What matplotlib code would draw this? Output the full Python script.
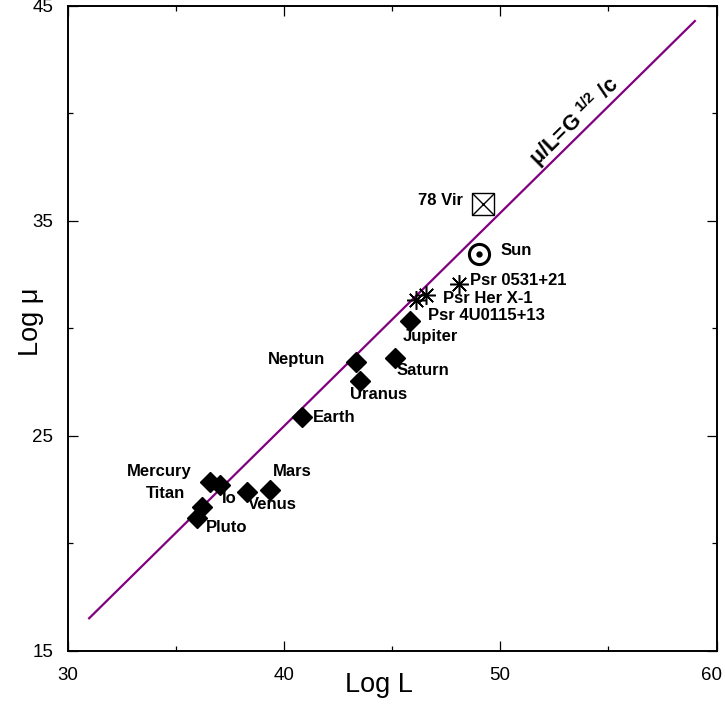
import matplotlib
matplotlib.use("Agg")
import matplotlib.pyplot as plt
from matplotlib.ticker import MultipleLocator
from matplotlib.transforms import ScaledTranslation

plt.rcParams['font.family'] = ['Liberation Sans', 'DejaVu Sans']
plt.rcParams['mathtext.fontset'] = 'custom'
plt.rcParams['mathtext.bf'] = 'Liberation Sans:bold'
plt.rcParams['mathtext.rm'] = 'Liberation Sans:bold'
plt.rcParams['mathtext.default'] = 'bf'

# ---------------- data ----------------
planet_names = ["Mercury", "Io", "Titan", "Pluto", "Venus", "Mars", "Earth",
                "Neptun", "Uranus", "Saturn", "Jupiter"]
planet_logL = [36.58, 37.04, 36.20, 35.97, 38.28, 39.35, 40.86,
               43.33, 43.54, 45.13, 45.85]
planet_logmu = [22.83, 22.69, 21.68, 21.16, 22.38, 22.46, 25.86,
                28.42, 27.54, 28.62, 30.36]

pulsar_names = ["Psr 4U0115+13", "Psr Her X-1", "Psr 0531+21"]
pulsar_logL = [46.10, 46.59, 48.10]
pulsar_logmu = [31.32, 31.57, 32.06]

sun_name = "Sun"
sun_logL = [49.02]
sun_logmu = [33.46]

vir_name = "78 Vir"
vir_logL = [49.21]
vir_logmu = [35.78]

line_logL = [31.0, 59.0]
line_logmu = [16.5, 44.3]

xticks = [30, 40, 50, 60]
yticks = [15, 25, 35, 45]

# label offsets (points): (dx, dy, ha)
label_layout = {
    "Mercury": (-13, 8, "right"),
    "Io": (1.4, -9.4, "left"),
    "Titan": (-12, 10, "right"),
    "Pluto": (7, -6.8, "left"),
    "Venus": (1, -9.2, "left"),
    "Mars": (2, 13.7, "left"),
    "Earth": (7.6, 0, "left"),
    "Neptun": (-22.3, 1.6, "right"),
    "Uranus": (-7.7, -10, "left"),
    "Saturn": (1.4, -8.8, "left"),
    "Jupiter": (-5.5, -11.5, "left"),
    "Psr 4U0115+13": (8.6, -11.3, "left"),
    "Psr Her X-1": (12, -3.2, "left"),
    "Psr 0531+21": (7.7, 2.7, "left"),
    "Sun": (15.6, 2.7, "left"),
    "78 Vir": (-14.5, 2.4, "right"),
}

fig = plt.figure(figsize=(7.25, 7.06), dpi=100)
ax = fig.add_axes([67.5 / 725, 55.5 / 706, 649 / 725, 644.5 / 706])

ax.plot(line_logL, line_logmu, color='#800080', lw=1.6, zorder=1)

ax.plot(planet_logL, planet_logmu, linestyle='none', marker='D', ms=10.3,
        color='black', zorder=3)
ax.plot(pulsar_logL, pulsar_logmu, linestyle='none', marker=(8, 2, 0), ms=13.5,
        mew=1.1, color='black', zorder=3)
ax.plot(sun_logL, sun_logmu, linestyle='none', marker='o', ms=14.5, mfc='white',
        mec='black', mew=2.2, zorder=3)
ax.plot(sun_logL, sun_logmu, linestyle='none', marker='o', ms=3.5,
        color='black', zorder=4)
ax.plot(vir_logL, vir_logmu, linestyle='none', marker='s', ms=15.5, mfc='white',
        mec='black', mew=1.0, zorder=3)
ax.plot(vir_logL, vir_logmu, linestyle='none', marker='x', ms=15.5,
        mec='black', mew=1.0, zorder=4)

all_names = planet_names + pulsar_names + [sun_name, vir_name]
all_x = planet_logL + pulsar_logL + sun_logL + vir_logL
all_y = planet_logmu + pulsar_logmu + sun_logmu + vir_logmu
for n, x, y in zip(all_names, all_x, all_y):
    dx, dy, ha = label_layout[n]
    ax.annotate(n, (x, y), xytext=(dx, dy), textcoords='offset points',
                ha=ha, va='center', fontsize=12, fontweight='bold', zorder=5)

ax.text(53.42, 39.62, r'$μ/L\!=\!G^{\ 1/2}\ /c$', rotation=44.6,
        rotation_mode='anchor', ha='center', va='center', fontsize=15.5)

ax.set_xlim(30, 60)
ax.set_ylim(15, 45)
ax.set_xticks(xticks)
ax.set_yticks(yticks)
ax.xaxis.set_minor_locator(MultipleLocator(5))
ax.yaxis.set_minor_locator(MultipleLocator(5))
ax.tick_params(which='both', direction='in', top=True, right=True, width=0.9)
ax.tick_params(which='major', length=7)
ax.tick_params(which='minor', length=3.5)
ax.tick_params(axis='x', which='major', pad=12, labelsize=13.5)
ax.tick_params(axis='y', which='major', pad=10.4, labelsize=13.5)
for s in ax.spines.values():
    s.set_linewidth(1.4)

fig.canvas.draw()
last = ax.get_xticklabels()[-1]
last.set_transform(last.get_transform() + ScaledTranslation(-5 / 100, 0, fig.dpi_scale_trans))

ax.set_xlabel('Log L', fontsize=19.5, va='center')
ax.xaxis.set_label_coords(0.48, -0.053)
ax.set_ylabel('Log μ', fontsize=19.5, va='center')
ax.yaxis.set_label_coords(-0.057, 0.51)

fig.savefig('out.png', dpi=100)
